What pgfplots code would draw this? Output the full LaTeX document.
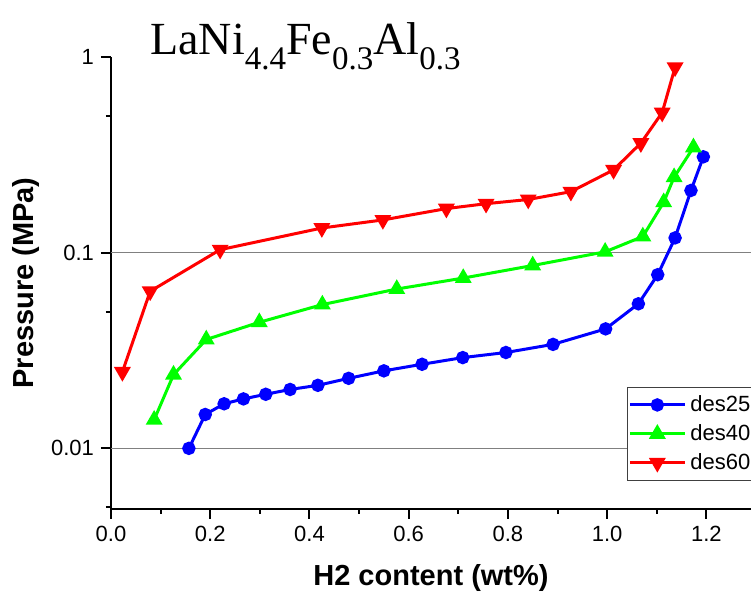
\documentclass[border=0pt]{standalone}
\usepackage{pgfplots}
\pgfplotsset{compat=1.18}
\usepackage{pgfplotstable}
\usepackage{fontspec}
\setmainfont{Liberation Sans}
\newfontfamily\timesfont{Liberation Serif}
\newcommand\sub[1]{\raisebox{-0.32em}{\fontsize{16.5}{18}\selectfont #1}}
\definecolor{cblue}{RGB}{0,0,255}
\definecolor{cgreen}{RGB}{0,255,0}
\definecolor{cred}{RGB}{255,0,0}
\pgfplotstableread{
x y
0.157 0.0100
0.190 0.0149
0.228 0.0169
0.267 0.0179
0.312 0.0189
0.361 0.0200
0.417 0.0210
0.479 0.0228
0.550 0.0249
0.627 0.0269
0.709 0.0291
0.796 0.0309
0.891 0.0340
0.997 0.0408
1.063 0.0548
1.102 0.0772
1.137 0.119
1.169 0.208
1.194 0.309
}\desA
\pgfplotstableread{
x y
0.087 0.0140
0.126 0.0238
0.192 0.0360
0.299 0.0441
0.426 0.0543
0.576 0.0652
0.710 0.0742
0.850 0.0860
0.996 0.1010
1.072 0.121
1.114 0.181
1.135 0.243
1.174 0.345
}\desB
\pgfplotstableread{
x y
0.023 0.0246
0.079 0.0635
0.220 0.1036
0.425 0.1337
0.548 0.147
0.676 0.168
0.756 0.178
0.841 0.187
0.927 0.205
1.013 0.265
1.068 0.363
1.111 0.520
1.137 0.886
}\desC
\begin{document}
\begin{tikzpicture}
\path[use as bounding box] (-55.5pt,-42.5pt) rectangle (320pt,254.5pt);
\clip (-55.5pt,-42.5pt) rectangle (320pt,254.5pt);
\begin{axis}[
  scale only axis, width=320pt, height=226pt,
  xmin=0, xmax=1.29, ymode=log, ymin=0.0049, ymax=1,
  axis x line*=bottom, axis y line*=left,
  axis line style={line width=1pt, -},
  xtick={0,0.2,0.4,0.6,0.8,1.0,1.2},
  minor xtick={0.1,0.3,0.5,0.7,0.9,1.1},
  xticklabels={0.0,0.2,0.4,0.6,0.8,1.0,1.2},
  ytick={0.01,0.1,1}, yticklabels={0.01,0.1,1},
  minor ytick={0.005,0.05,0.5},
  tick align=outside, major tick length=5pt, minor tick length=2.5pt,
  tick style={line width=1pt, black},
  ticklabel style={font=\fontsize{11}{13}\selectfont},
  extra y ticks={0.01,0.1}, extra y tick labels={},
  extra y tick style={grid=major, major grid style={draw=gray, line width=0.5pt}, major tick length=0pt},
  xlabel={\bfseries H2 content (wt\%)},
  ylabel={\bfseries Pressure (MPa)},
  label style={font=\fontsize{14.5}{16}\selectfont},
  xlabel style={at={(axis description cs:0.5,-0.1527)}, anchor=center},
  ylabel style={at={(axis description cs:-0.1328,0.5)}, anchor=center},
  legend style={at={(axis description cs:0.806,0.27)}, anchor=north west,
    draw=black!75, line width=0.5pt, font=\fontsize{11}{13}\selectfont,
    inner xsep=0.5pt, inner ysep=2pt, row sep=1pt},
  legend cell align=left,
  legend image code/.code={\draw[#1, mark repeat=2, mark phase=2] plot coordinates {(0pt,0pt) (13.75pt,0pt) (27.5pt,0pt)};},
]
\addplot[cblue, line width=1.5pt, mark=*, mark size=2.6pt, mark options={solid, fill=cblue}] table[x=x,y=y] {\desA};
\addlegendentry{des25}
\addplot[cgreen, line width=1.5pt, mark=triangle*, mark size=3.4pt, mark options={solid, fill=cgreen}] table[x=x,y=y] {\desB};
\addlegendentry{des40}
\addplot[cred, line width=1.5pt, mark=triangle*, mark size=3.4pt, mark options={solid, fill=cred, rotate=180}] table[x=x,y=y] {\desC};
\addlegendentry{des60}
\end{axis}
\node[anchor=base west, font=\timesfont\fontsize{23}{26}\selectfont, inner sep=0pt] at (19.5pt,227pt) {LaNi\sub{4.4}Fe\sub{0.3}Al\sub{0.3}};
\end{tikzpicture}
\end{document}
